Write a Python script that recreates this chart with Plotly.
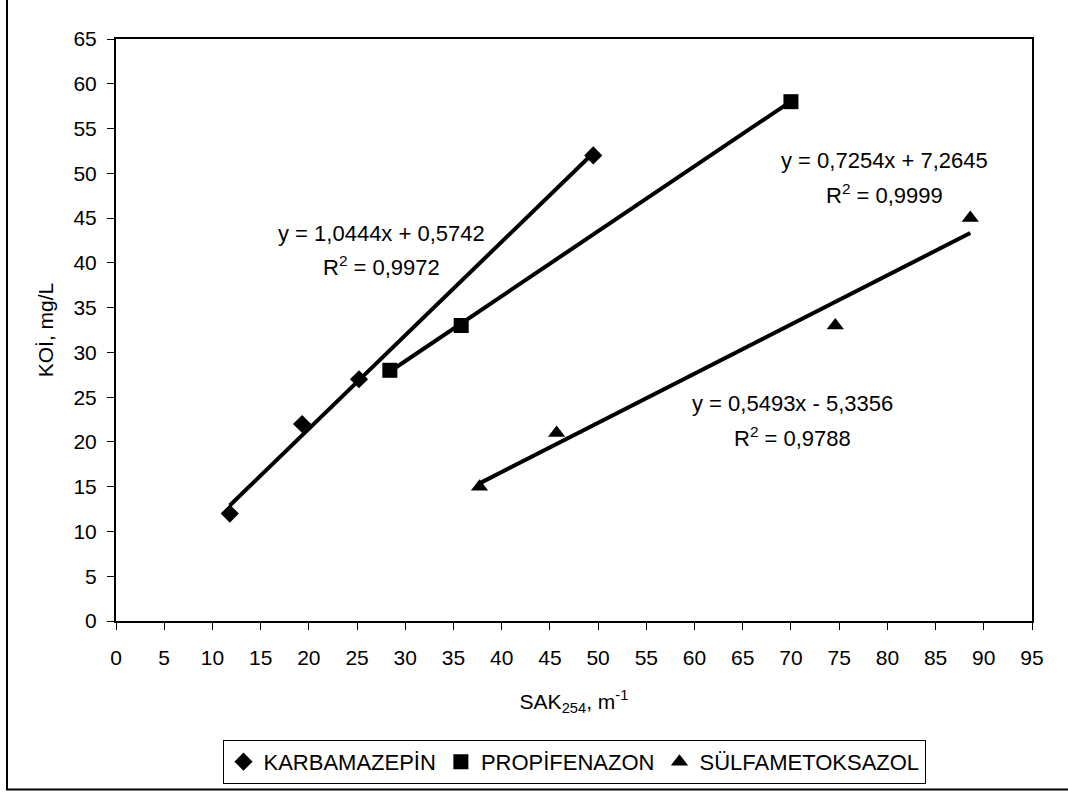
import plotly.graph_objects as go

# Data
karb_x = [11.8, 19.3, 25.2, 49.5]
karb_y = [12, 22, 27, 52]
prop_x = [28.4, 35.8, 70.0]
prop_y = [28, 33, 58]
sulf_x = [37.7, 45.7, 74.6, 88.6]
sulf_y = [15, 21, 33, 45]

series_names = ["KARBAMAZEPİN", "PROPİFENAZON", "SÜLFAMETOKSAZOL"]
slopes = [1.0444, 0.7254, 0.5493]
intercepts = [0.5742, 7.2645, -5.3356]
r2_values = ["0,9972", "0,9999", "0,9788"]
eq_texts = ["y = 1,0444x + 0,5742", "y = 0,7254x + 7,2645", "y = 0,5493x - 5,3356"]
eq_pos_x = [27.5, 79.75, 70.2]
eq_pos_y = [43.3, 51.4, 24.25]
r2_pos_y = [39.6, 47.7, 20.6]

x_ticks = list(range(0, 100, 5))
y_ticks = list(range(0, 70, 5))

FONT = "Liberation Sans, Arial, sans-serif"
FS = 21

fig = go.Figure()

all_x = [karb_x, prop_x, sulf_x]
all_y = [karb_y, prop_y, sulf_y]
symbols = ["diamond", "square", "triangle-up"]
sizes = [14, 15, 15]

# trend lines
for xs, a, b in zip(all_x, slopes, intercepts):
    x0, x1 = min(xs), max(xs)
    fig.add_trace(go.Scatter(x=[x0, x1], y=[a * x0 + b, a * x1 + b], mode="lines",
                             line=dict(color="black", width=4), showlegend=False,
                             hoverinfo="skip"))

# data markers
for xs, ys, name, sym, sz in zip(all_x, all_y, series_names, symbols, sizes):
    fig.add_trace(go.Scatter(x=xs, y=ys, mode="markers", name=name,
                             marker=dict(symbol=sym, size=sz, color="black",
                                         line=dict(width=0))))

annotations = []
for t, r2, ex, ey, ry in zip(eq_texts, r2_values, eq_pos_x, eq_pos_y, r2_pos_y):
    annotations.append(dict(x=ex, y=ey, xref="x", yref="y", text=t, showarrow=False,
                            font=dict(size=22, color="black", family=FONT),
                            xanchor="center", yanchor="middle"))
    annotations.append(dict(x=ex, y=ry, xref="x", yref="y", text="R<sup>2</sup> = " + r2,
                            showarrow=False, font=dict(size=22, color="black", family=FONT),
                            xanchor="center", yanchor="middle"))

fig.update_layout(
    width=1068, height=796,
    margin=dict(l=116, r=36, t=39, b=170),
    paper_bgcolor="white", plot_bgcolor="white",
    font=dict(family=FONT, size=FS, color="black"),
    annotations=annotations,
    legend=dict(orientation="h", x=0.5, xanchor="center", y=-0.242, yanchor="middle",
                bordercolor="black", borderwidth=1, font=dict(size=22, family=FONT),
                itemwidth=30, tracegroupgap=0),
    shapes=[dict(type="rect", xref="paper", yref="paper", x0=-0.119, x1=1.06,
                 y0=-0.2895, y1=1.08, line=dict(color="black", width=2),
                 fillcolor="rgba(0,0,0,0)", layer="below")],
)

fig.update_xaxes(range=[0, 95], tickvals=x_ticks, ticks="outside", ticklen=7,
                 tickwidth=1, tickcolor="black", showline=True, linecolor="black",
                 linewidth=2, mirror=True, showgrid=False, zeroline=False,
                 ticklabelstandoff=10,
                 tickfont=dict(size=FS, family=FONT),
                 title=dict(text="SAK<sub>254</sub>, m<sup>-1</sup>", standoff=26,
                            font=dict(size=FS, family=FONT)))
fig.update_yaxes(range=[0, 65], tickvals=y_ticks, ticks="outside", ticklen=7,
                 tickwidth=1, tickcolor="black", showline=True, linecolor="black",
                 linewidth=2, mirror=True, showgrid=False, zeroline=False,
                 ticklabelstandoff=6,
                 tickfont=dict(size=FS, family=FONT),
                 title=dict(text="KOİ, mg/L", standoff=14,
                            font=dict(size=FS, family=FONT)))

fig.write_html("out.html")
